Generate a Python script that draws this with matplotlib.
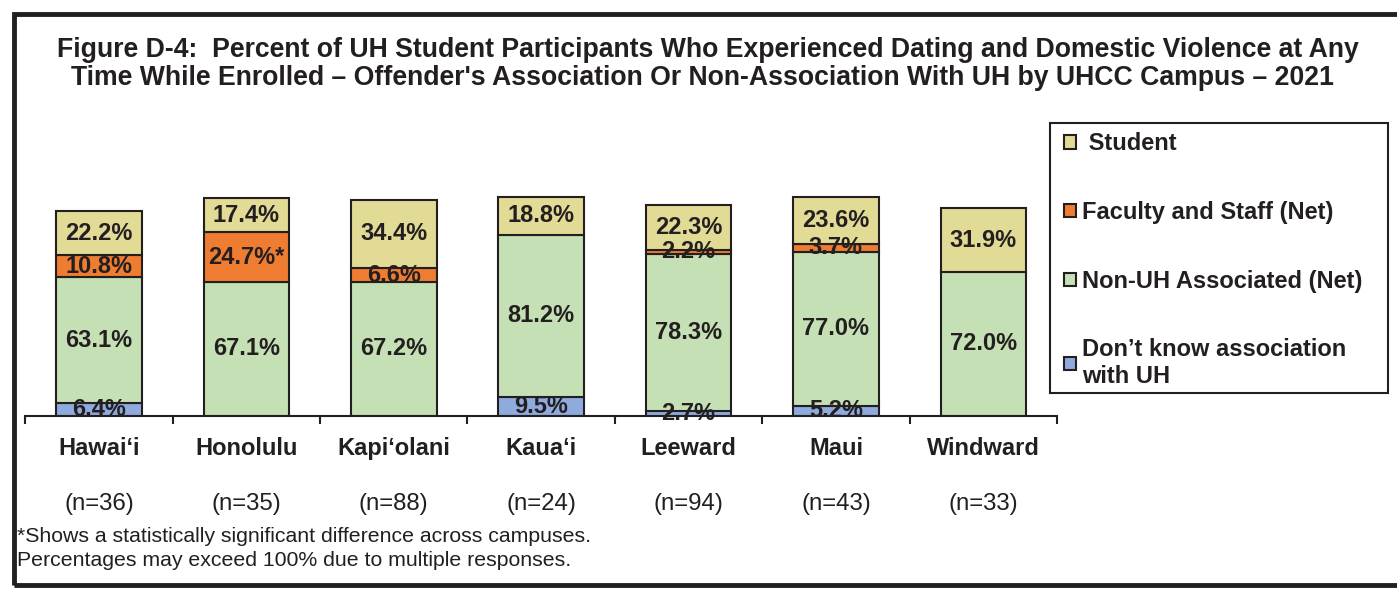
import matplotlib
matplotlib.use("Agg")
import matplotlib.pyplot as plt
from matplotlib.patches import Rectangle
import numpy as np

plt.rcParams['font.family'] = ['Liberation Sans', 'DejaVu Sans']

# data
campuses = ['Hawai\u2018i', 'Honolulu', 'Kapi\u2018olani', 'Kaua\u2018i', 'Leeward', 'Maui', 'Windward']
n_labels = ['(n=36)', '(n=35)', '(n=88)', '(n=24)', '(n=94)', '(n=43)', '(n=33)']
dont_know = [6.4, 0, 0, 9.5, 2.7, 5.2, 0]
non_uh = [63.1, 67.1, 67.2, 81.2, 78.3, 77.0, 72.0]
faculty = [10.8, 24.7, 6.6, 0, 2.2, 3.7, 0]
student = [22.2, 17.4, 34.4, 18.8, 22.3, 23.6, 31.9]
faculty_sig = ['', '*', '', '', '', '', '']

series = [
    ('Don\u2019t know association\nwith UH', dont_know, '#8FAADC', ['']*7),
    ('Non-UH Associated (Net)', non_uh, '#C5E0B4', ['']*7),
    ('Faculty and Staff (Net)', faculty, '#EE7D31', faculty_sig),
    (' Student', student, '#E2DB95', ['']*7),
]

dark = '#231F20'
W, H = 1397, 592
fig = plt.figure(figsize=(W/100, H/100), dpi=100)
ax = fig.add_axes([25.3/W, (H-416)/H, (1057-25.3)/W, 240/H])

x = np.arange(len(campuses))
bottom = np.zeros(len(campuses))
handles = {}
for name, vals, col, marks in series:
    vals = np.array(vals, dtype=float)
    for i, v in enumerate(vals):
        if v <= 0:
            continue
        b = ax.bar(x[i], v, 0.58, bottom=bottom[i], color=col, edgecolor=dark, linewidth=1.5)
        handles[name] = b
        ax.text(x[i], bottom[i] + v/2, f'{v:.1f}%{marks[i]}', ha='center', va='center',
                fontsize=17, fontweight='bold', color=dark)
    bottom += vals

ax.set_xlim(-0.5, len(campuses) - 0.5)
ax.set_ylim(0, 120)
for s in ['top', 'right', 'left']:
    ax.spines[s].set_visible(False)
ax.spines['bottom'].set_linewidth(1.5)
ax.spines['bottom'].set_color(dark)
ax.set_yticks([])
ax.set_xticks(x)
ax.set_xticklabels(campuses, fontsize=17, fontweight='bold', color=dark)
ax.tick_params(axis='x', which='major', length=0, pad=15)
ax.set_xticks(np.arange(-0.5, len(campuses)), minor=True)
ax.tick_params(axis='x', which='minor', length=6, width=1.5, color=dark, direction='out')

for i, lab in enumerate(n_labels):
    ax.annotate(lab, xy=(x[i], 0), xycoords=('data', 'axes fraction'),
                xytext=(0, -88/1.389), textcoords='offset points',
                ha='center', va='center', fontsize=17.3, color=dark)

# legend: content without frame, box drawn separately
order = [' Student', 'Faculty and Staff (Net)', 'Non-UH Associated (Net)',
         'Don\u2019t know association\nwith UH']
leg = fig.legend([handles[k] for k in order], order, loc='upper left',
                 bbox_to_anchor=(1064/W, 1 - 132.5/H), bbox_transform=fig.transFigure,
                 frameon=False, fontsize=17,
                 handlelength=0.5, handleheight=0.5, handletextpad=0.25,
                 labelspacing=1.93, borderpad=0, borderaxespad=0)
for t in leg.get_texts():
    t.set_fontweight('bold')
    t.set_color(dark)
fig.patches.append(Rectangle((1050/W, (H-393)/H), 338/W, 270/H, transform=fig.transFigure,
                             fill=False, edgecolor=dark, linewidth=1.5))

fig.text(708/W, 1 - 57/H, "Figure D-4:  Percent of UH Student Participants Who Experienced Dating and Domestic Violence at Any",
         ha='center', va='baseline', fontsize=19.2, fontweight='bold', color=dark)
fig.text(702/W, 1 - 85/H, "Time While Enrolled \u2013 Offender's Association Or Non-Association With UH by UHCC Campus \u2013 2021",
         ha='center', va='baseline', fontsize=19.2, fontweight='bold', color=dark)

fig.text(17/W, 1 - 537/H, '*Shows a statistically significant difference across campuses.',
         ha='left', va='center', fontsize=15.3, color=dark)
fig.text(17/W, 1 - 561/H, 'Percentages may exceed 100% due to multiple responses.',
         ha='left', va='center', fontsize=15.3, color=dark)

fig.patches.append(Rectangle((13.5/W, (H-585)/H), 1.1, (585-13.5)/H, transform=fig.transFigure,
                             fill=False, edgecolor=dark, linewidth=3.5, clip_on=False))

fig.savefig('out.png', dpi=100)
